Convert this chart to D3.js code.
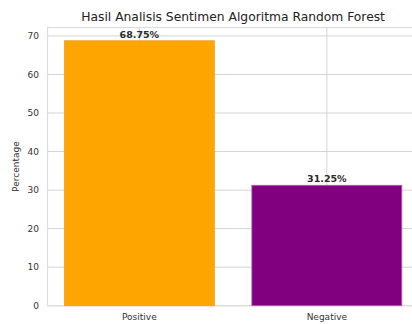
<!DOCTYPE html>
<html>
<head>
<meta charset="utf-8">
<script src="https://cdn.jsdelivr.net/npm/d3@7"></script>
<style>
  html, body { margin: 0; padding: 0; background: #fff; }
  svg { display: block; font-family: "DejaVu Sans", sans-serif; }
</style>
</head>
<body>
<svg id="chart" width="412" height="324"></svg>
<script>
// Sentiment share from the Random Forest classifier
const categories = ["Positive", "Negative"];
const percentages = [68.75, 31.25];
const barColors = ["#FFA500", "#800080"];
const edgeColors = ["#f0a020", "#b060b0"];
const yTicks = [0, 10, 20, 30, 40, 50, 60, 70];

const svg = d3.select("#chart");
const margin = { left: 47.5, top: 27.5, bottom: 305.7 };
const plotRight = 418.7; // axes extends slightly past the canvas edge

const yMax = d3.max(percentages) * 1.05;
const y = d3.scaleLinear().domain([0, yMax]).range([margin.bottom, margin.top]);
const x = d3.scaleLinear().domain([-0.49, categories.length - 1 + 0.49]).range([margin.left, plotRight]);
const barWidth = 0.8;

// grid
const grid = svg.append("g");
grid.selectAll("line.h").data(yTicks).join("line")
  .attr("x1", margin.left).attr("x2", plotRight)
  .attr("y1", d => y(d)).attr("y2", d => y(d))
  .attr("stroke", "#d4d4d4").attr("stroke-width", 1);
grid.selectAll("line.v").data(categories).join("line")
  .attr("x1", (d, i) => x(i)).attr("x2", (d, i) => x(i))
  .attr("y1", margin.top).attr("y2", margin.bottom)
  .attr("stroke", "#d4d4d4").attr("stroke-width", 1);

// frame
svg.append("rect")
  .attr("x", margin.left).attr("y", margin.top)
  .attr("width", plotRight - margin.left).attr("height", margin.bottom - margin.top)
  .attr("fill", "none").attr("stroke", "#dcdcdc").attr("stroke-width", 1.2);

// bars
svg.append("g").selectAll("rect").data(percentages).join("rect")
  .attr("x", (d, i) => x(i - barWidth / 2))
  .attr("width", (d, i) => x(i + barWidth / 2) - x(i - barWidth / 2))
  .attr("y", d => y(d))
  .attr("height", d => y(0) - y(d))
  .attr("fill", (d, i) => barColors[i])
  .attr("stroke", (d, i) => edgeColors[i])
  .attr("stroke-width", 0.8);

// value labels
svg.append("g").selectAll("text").data(percentages).join("text")
  .attr("x", (d, i) => x(i))
  .attr("y", d => y(d) - 3)
  .attr("text-anchor", "middle")
  .attr("font-size", 9.5)
  .attr("font-weight", "bold")
  .attr("fill", "#2a2a2a")
  .text(d => d.toFixed(2) + "%");

// y tick labels
svg.append("g").selectAll("text").data(yTicks).join("text")
  .attr("x", 39)
  .attr("y", d => y(d))
  .attr("dy", "0.35em")
  .attr("text-anchor", "end")
  .attr("font-size", 9)
  .attr("fill", "#333")
  .text(d => d);

// x tick labels
svg.append("g").selectAll("text").data(categories).join("text")
  .attr("x", (d, i) => x(i))
  .attr("y", 320)
  .attr("text-anchor", "middle")
  .attr("font-size", 9)
  .attr("fill", "#333")
  .text(d => d);

// axis title
svg.append("text")
  .attr("transform", `translate(19, ${(margin.top + margin.bottom) / 2}) rotate(-90)`)
  .attr("text-anchor", "middle")
  .attr("font-size", 9)
  .attr("fill", "#333")
  .text("Percentage");

// chart title
svg.append("text")
  .attr("x", (margin.left + plotRight) / 2)
  .attr("y", 21)
  .attr("text-anchor", "middle")
  .attr("font-size", 12.3)
  .attr("fill", "#222")
  .text("Hasil Analisis Sentimen Algoritma Random Forest");
</script>
</body>
</html>
